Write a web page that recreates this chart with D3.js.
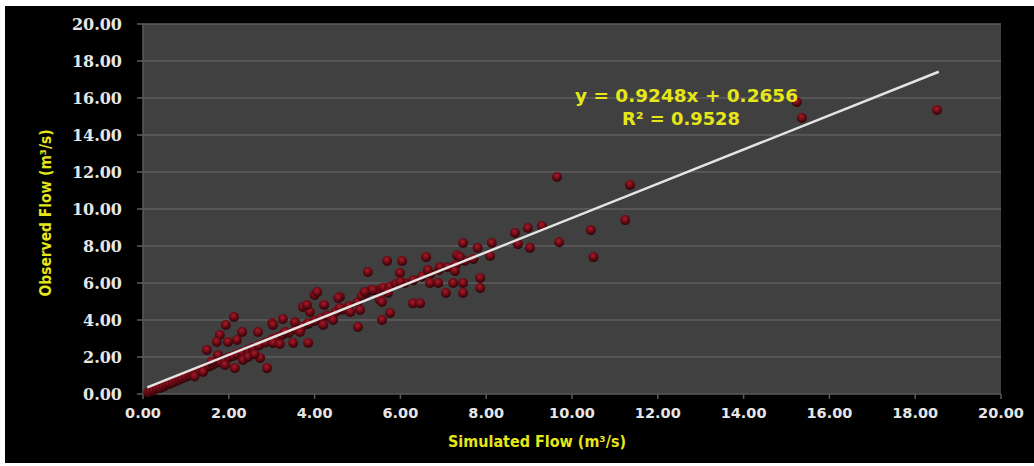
<!DOCTYPE html>
<html><head><meta charset="utf-8">
<script src="https://cdn.jsdelivr.net/npm/d3@7/dist/d3.min.js"></script>
<style>html,body{margin:0;padding:0;background:#fff;}svg{display:block;}</style>
</head><body>
<script>
// ---- data ----
const xTicks = [0,2,4,6,8,10,12,14,16,18,20];
const yTicks = [0,2,4,6,8,10,12,14,16,18,20];
const xTickLabels = ["0.00","2.00","4.00","6.00","8.00","10.00","12.00","14.00","16.00","18.00","20.00"];
const yTickLabels = ["0.00","2.00","4.00","6.00","8.00","10.00","12.00","14.00","16.00","18.00","20.00"];
const simulated = [
 0.12,0.18,0.25,0.32,0.4,0.48,0.55,0.62,0.7,0.78,0.85,0.92,1.0,1.08,1.15,1.22,1.3,1.38,1.45,1.55,1.62,1.7,1.8,1.9,2.0,2.1,2.2,2.3,2.45,2.55,2.7,2.85,3.0,3.1,3.25,3.4,3.55,3.7,3.85,4.0,4.15,4.3,4.5,4.65,4.8,5.0,5.1,5.2,5.3,5.45,5.6,5.75,5.9,6.1,6.3,6.5,6.7,6.9,7.1,7.3,7.5,7.7,
 2.12,1.93,1.79,1.72,1.49,1.98,2.19,2.31,2.33,2.14,1.91,1.4,2.68,2.73,2.89,3.01,3.03,3.26,3.19,3.5,3.54,3.73,3.89,3.85,4.0,3.03,3.31,3.66,4.36,4.59,4.06,3.82,4.22,4.55,4.59,4.83,5.06,4.43,4.2,3.85,5.01,5.52,5.57,5.76,5.57,5.71,5.17,5.36,5.24,5.69,6.04,6.6,5.99,6.0,6.64,6.92,7.27,6.69,6.88,7.23,7.46,7.06,7.46,6.29,6.46,7.32,7.46,7.39,7.8,8.13,8.09,7.86,7.86,8.67,8.97,8.74,9.02,9.3,9.65,9.7,10.44,10.5,11.24,11.35,15.24,15.36,18.51,
 1.2,1.6,1.75,2.45,2.6];
const observed = [
 0.08,0.15,0.2,0.28,0.33,0.4,0.5,0.55,0.62,0.7,0.78,0.85,0.92,1.0,1.1,1.15,1.25,1.3,1.42,1.5,1.58,1.68,1.75,1.85,1.98,2.05,2.15,2.25,2.38,2.5,2.62,2.78,2.95,3.05,3.2,3.3,3.5,3.62,3.78,3.95,4.1,4.25,4.45,4.55,4.75,4.95,5.3,5.45,5.6,5.6,5.75,5.8,5.95,6.0,6.15,6.35,6.5,6.7,6.85,7.0,7.2,7.3,
 4.16,3.73,3.19,2.81,2.38,2.81,2.92,3.35,1.84,1.4,1.57,1.19,3.35,1.95,1.4,3.84,2.76,4.05,2.7,2.76,3.89,4.7,4.43,2.76,5.35,3.73,3.35,3.35,4.16,5.24,5.51,4.81,4.81,5.19,4.65,4.43,4.54,4.0,3.73,3.84,3.62,5.08,4.97,4.38,4.0,5.46,5.51,5.62,6.59,7.19,7.19,7.4,6.54,6.05,6.7,6.86,6.65,6.0,6.0,6.0,6.0,5.46,5.46,4.9,4.9,7.5,8.16,7.4,7.9,8.16,7.46,6.27,5.73,8.7,8.97,8.1,7.9,9.08,11.73,8.2,8.86,7.4,9.4,11.3,15.78,14.92,15.35,
 0.95,1.75,2.1,2.0,2.15];
const slope = 0.9248, intercept = 0.2656;
const trendX = [0.1, 18.55];
const equationText = "y = 0.9248x + 0.2656";
const r2Text = "R² = 0.9528";
const xTitle = "Simulated Flow (m³/s)";
const yTitle = "Observed Flow  (m³/s)";

// ---- drawing ----
const W = 1034, H = 466;
const svg = d3.select("body").append("svg").attr("width", W).attr("height", H);
const defs = svg.append("defs");
const grad = defs.append("radialGradient").attr("id","bead").attr("cx","45%").attr("cy","35%").attr("r","65%");
grad.append("stop").attr("offset","0%").attr("stop-color","#a81c2a");
grad.append("stop").attr("offset","50%").attr("stop-color","#6e0b16");
grad.append("stop").attr("offset","100%").attr("stop-color","#2a0306");

svg.append("rect").attr("x",5).attr("y",6).attr("width",W-5).attr("height",H-9).attr("fill","#000");

const x = d3.scaleLinear().domain([0,20]).range([143,1001]);
const y = d3.scaleLinear().domain([0,20]).range([394,24]);

svg.append("rect").attr("x",x(0)).attr("y",y(20)).attr("width",x(20)-x(0)).attr("height",y(0)-y(20)).attr("fill","#404040");

// grid lines + y tick marks
svg.append("g").selectAll("line").data(yTicks.filter(d=>d>0)).join("line")
  .attr("x1",x(0)-6).attr("x2",x(20)).attr("y1",d=>y(d)).attr("y2",d=>y(d))
  .attr("stroke","#5e5e5e").attr("stroke-width",1.5);

// axes lines
svg.append("line").attr("x1",x(0)).attr("x2",x(0)).attr("y1",y(20)).attr("y2",y(0)).attr("stroke","#5a5a5a").attr("stroke-width",1.5);
svg.append("line").attr("x1",x(0)-6).attr("x2",x(20)).attr("y1",y(0)).attr("y2",y(0)).attr("stroke","#5a5a5a").attr("stroke-width",1.5);
svg.append("g").selectAll("line").data(xTicks).join("line")
  .attr("x1",d=>x(d)).attr("x2",d=>x(d)).attr("y1",y(0)).attr("y2",y(0)+5)
  .attr("stroke","#5a5a5a").attr("stroke-width",1.5);

// tick labels
svg.append("g").selectAll("text").data(yTicks).join("text")
  .attr("x",122).attr("y",d=>y(d)).attr("dy","0.36em").attr("text-anchor","end")
  .attr("font-family","DejaVu Serif").attr("font-weight","bold").attr("font-size",16)
  .attr("fill","#e6e6e6").text((d,i)=>yTickLabels[i]);
svg.append("g").selectAll("text").data(xTicks).join("text")
  .attr("x",d=>x(d)).attr("y",418).attr("text-anchor","middle")
  .attr("font-family","DejaVu Sans").attr("font-weight","bold").attr("font-size",14.5)
  .attr("fill","#e6e6e6").text((d,i)=>xTickLabels[i]);

// titles
svg.append("text").attr("x",537).attr("y",447).attr("text-anchor","middle")
  .attr("font-family","DejaVu Sans").attr("font-weight","bold").attr("font-size",16)
  .attr("textLength",178).attr("lengthAdjust","spacingAndGlyphs")
  .attr("fill","#e6e61a").text(xTitle);
svg.append("text").attr("transform","translate(51,213) rotate(-90)").attr("text-anchor","middle")
  .attr("font-family","DejaVu Sans").attr("font-weight","bold").attr("font-size",16)
  .attr("textLength",167).attr("lengthAdjust","spacingAndGlyphs")
  .attr("fill","#e6e61a").text(yTitle);

// points
const pts = simulated.map((s,i)=>({s, o: observed[i]}));
svg.append("g").selectAll("circle").data(pts).join("circle")
  .attr("cx",d=>x(d.s)).attr("cy",d=>y(d.o)).attr("r",5)
  .attr("fill","url(#bead)");

// trend line
svg.append("path").datum(trendX)
  .attr("d", d3.line().x(d=>x(d)).y(d=>y(slope*d+intercept)))
  .attr("stroke","#e4e4e4").attr("stroke-width",2.5).attr("fill","none");

// equation
svg.append("text").attr("x",575).attr("y",102)
  .attr("font-family","DejaVu Sans").attr("font-weight","bold").attr("font-size",17)
  .attr("textLength",223).attr("lengthAdjust","spacingAndGlyphs")
  .attr("fill","#e6e61a").text(equationText);
svg.append("text").attr("x",622).attr("y",125)
  .attr("font-family","DejaVu Sans").attr("font-weight","bold").attr("font-size",17)
  .attr("textLength",118).attr("lengthAdjust","spacingAndGlyphs")
  .attr("fill","#e6e61a").text(r2Text);
</script>
</body></html>
